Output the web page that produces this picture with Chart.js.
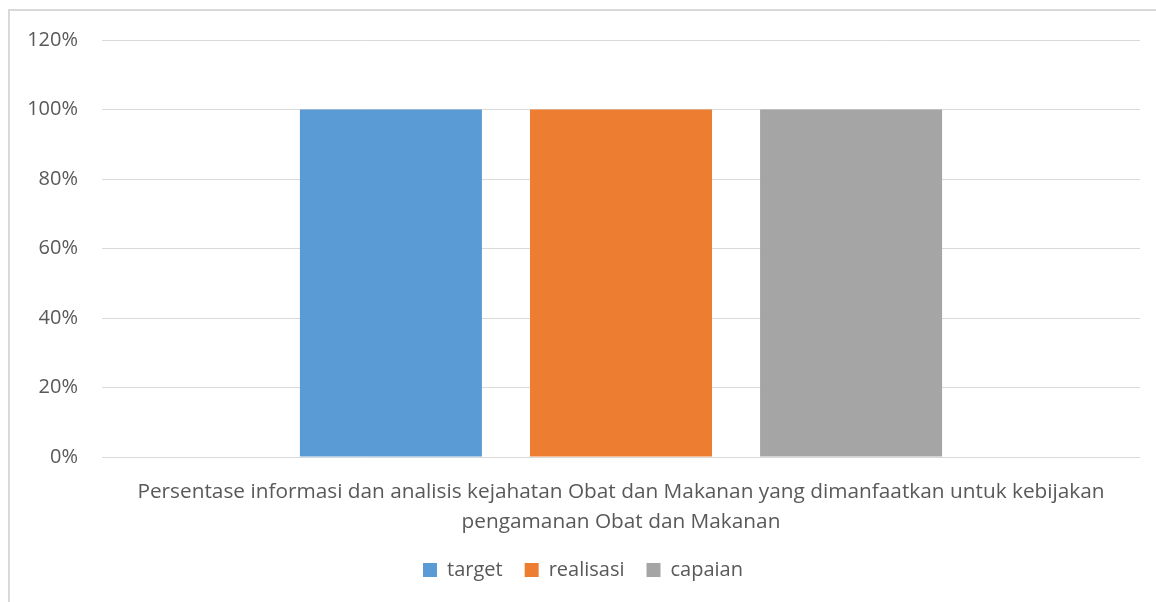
<!DOCTYPE html>
<html><head><meta charset="utf-8">
<script src="https://cdn.jsdelivr.net/npm/chart.js@4/dist/chart.umd.min.js"></script>
<style>
html,body{margin:0;padding:0;background:#fff;width:1156px;height:602px;overflow:hidden;}
#frame{position:absolute;left:8px;top:9px;width:1200px;height:700px;border-left:2px solid #d9d9d9;border-top:2px solid #d9d9d9;}
#wrap{position:absolute;left:0;top:0;width:1156px;height:602px;}
</style></head>
<body>
<div id="frame"></div>
<div id="wrap"><canvas id="c" width="1156" height="602"></canvas></div>
<script>
const categories = [["Persentase informasi dan analisis kejahatan Obat dan Makanan yang dimanfaatkan untuk kebijakan", "pengamanan Obat dan Makanan"]];
const seriesNames = ["target", "realisasi", "capaian"];
const targetValues = [1.0];
const realisasiValues = [1.0];
const capaianValues = [1.0];
const seriesColors = ["#5B9BD5", "#ED7D31", "#A5A5A5"];

const FONT = "'Open Sans', 'Liberation Sans', sans-serif";
Chart.defaults.font.family = FONT;
Chart.defaults.color = "#595959";

new Chart(document.getElementById('c'), {
  type: 'bar',
  data: {
    labels: categories,
    datasets: [
      {label: seriesNames[0], data: targetValues, backgroundColor: seriesColors[0]},
      {label: seriesNames[1], data: realisasiValues, backgroundColor: seriesColors[1]},
      {label: seriesNames[2], data: capaianValues, backgroundColor: seriesColors[2]}
    ]
  },
  options: {
    responsive: false,
    animation: false,
    devicePixelRatio: 1,
    categoryPercentage: 0.665,
    barPercentage: 0.791,
    layout: {padding: {left: 26, right: 16, top: 40, bottom: 12}},
    plugins: {
      legend: {
        position: 'bottom',
        labels: {boxWidth: 14, boxHeight: 14, font: {size: 20}, color: '#595959', padding: 22}
      },
      tooltip: {enabled: false}
    },
    scales: {
      x: {
        grid: {display: false},
        border: {display: false},
        ticks: {font: {size: 20.8, lineHeight: 1.4}, color: '#595959', padding: 13, maxRotation: 0, autoSkip: false},
        afterFit: s => { s.height = 81; }
      },
      y: {
        min: 0, max: 1.2,
        ticks: {stepSize: 0.2, font: {size: 20}, color: '#595959', padding: 24,
          callback: v => Math.round(v * 100) + '%'},
        grid: {color: '#d9d9d9', lineWidth: 1, drawTicks: false},
        border: {display: false},
        afterFit: s => { s.width = 76; }
      }
    }
  }
});
</script>
</body></html>
